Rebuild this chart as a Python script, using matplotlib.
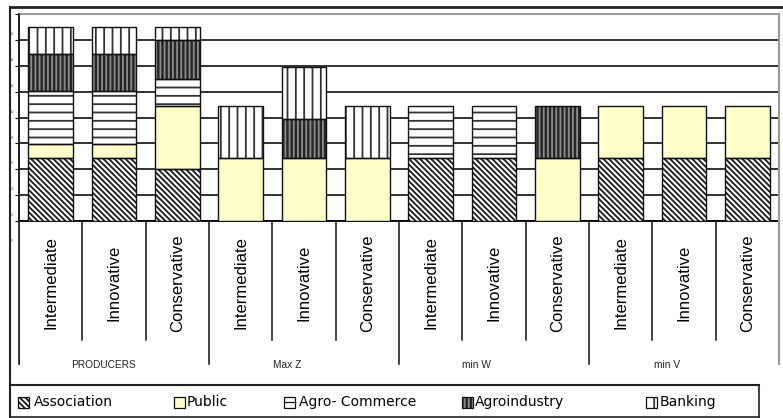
import numpy as np
import matplotlib
matplotlib.use("Agg")
import matplotlib.pyplot as plt
from matplotlib.lines import Line2D
from matplotlib.patches import Rectangle

W, H = 783, 418

categories = ['Intermediate', 'Innovative', 'Conservative'] * 4
groups = ['PRODUCERS', 'Max Z', 'min W', 'min V']

# stacked segments, bottom to top
association   = [4.9, 4.9, 4.0, 0, 0, 0, 4.9, 4.9, 0, 4.9, 4.9, 4.9]
public        = [1.05, 1.05, 4.9, 4.9, 4.9, 4.9, 0, 0, 4.9, 4.0, 4.0, 4.0]
agro_commerce = [4.1, 4.1, 2.05, 0, 0, 0, 4.0, 4.0, 0, 0, 0, 0]
agroindustry  = [2.85, 2.85, 3.05, 0, 3.0, 0, 0, 0, 4.0, 0, 0, 0]
banking       = [2.1, 2.1, 1.0, 4.0, 4.0, 4.0, 0, 0, 0, 0, 0, 0]

tick_labels = [0, 2, 4, 6, 8, 10, 12, 14, 16]

series = [
    ('Association', association, dict(fc='white', hatch='\\' * 6, hc='#1a1a1a')),
    ('Public', public, dict(fc='#ffffcc', hatch=None, hc='black')),
    ('Agro- Commerce', agro_commerce, dict(fc='white', hatch='--', hc='#333333')),
    ('Agroindustry', agroindustry, dict(fc='#262626', hatch='||||', hc='#8c8c8c')),
    ('Banking', banking, dict(fc='white', hatch='||', hc='#333333')),
]

plt.rcParams['hatch.linewidth'] = 1.3
plt.rcParams['font.family'] = ['Liberation Sans', 'DejaVu Sans']

fig = plt.figure(figsize=(W / 100, H / 100), dpi=100)

def fx(x):
    return x / W

def fy(y):
    return 1 - y / H

def fline(x0, y0, x1, y1, color='#222222', lw=1.0):
    fig.add_artist(Line2D([fx(x0), fx(x1)], [fy(y0), fy(y1)],
                          transform=fig.transFigure, color=color, lw=lw))

# main plot
ax = fig.add_axes([fx(19), fy(221), 760 / W, 207 / H])
x = np.arange(len(categories))
bottom = np.zeros(len(categories))
width = 0.71
for name, vals, st in series:
    vals = np.array(vals, dtype=float)
    m = vals > 0
    ax.bar(x[m], vals[m], width, bottom=bottom[m], color=st['fc'],
           hatch=st['hatch'], edgecolor=st['hc'], linewidth=0, zorder=3)
    ax.bar(x[m], vals[m], width, bottom=bottom[m], facecolor='none',
           edgecolor='#111111', linewidth=1.0, zorder=4)
    bottom += vals

ax.set_xlim(-0.5, 11.5)
ax.set_ylim(0, 16)
ax.set_yticks(np.arange(0, 17, 2))
ax.yaxis.grid(True, color='#222222', lw=1.3)
ax.set_axisbelow(True)
ax.tick_params(axis='y', length=3, width=0.8, labelleft=False)
ax.set_xticks([])
ax.spines['top'].set_color('#999999')
ax.spines['top'].set_linewidth(1.5)
ax.spines['right'].set_visible(False)
ax.spines['left'].set_linewidth(1.2)
ax.spines['bottom'].set_linewidth(1.3)
for t in tick_labels:
    ax.text(-0.009, t - 1.55, str(t), transform=ax.get_yaxis_transform(),
            ha='center', va='center', fontsize=3, color='#666666', clip_on=False)

# category table under the bars
tab = fig.add_axes([fx(19), fy(365), 760 / W, 144 / H])
tab.set_xlim(-0.5, 11.5)
tab.set_ylim(365, 221)
tab.axis('off')
for k in range(11):
    yend = 364 if k in (2, 5, 8) else 340
    tab.plot([k + 0.5, k + 0.5], [221, yend], color='#111111', lw=1.1)
tab.plot([-0.5, -0.5], [221, 364], color='#111111', lw=1.2)
for i, c in enumerate(categories):
    tab.text(i, 283, c, rotation=90, ha='center', va='center', fontsize=12)
for g, name in enumerate(groups):
    off = 0.17 if g == 0 else 0.27
    tab.text(3 * g + 1 - off, 365, name, ha='center', va='center', fontsize=7.3,
             color='#222222')

# frames
fline(10, 7, 783, 7, lw=2.0)
fline(10, 7, 10, 418, lw=1.5)
fline(19, 14, 19, 364, lw=1.2)
fline(779, 14, 779, 364, color='#999999', lw=1.5)
fline(10, 385, 759, 385, lw=1.5)
fline(759, 385, 759, 417, lw=1.2)
fline(10, 417, 759, 417, lw=1.2)

# legend row
leg = fig.add_axes([fx(10), fy(417), 749 / W, 32 / H])
leg.set_xlim(10, 759)
leg.set_ylim(417, 385)
leg.axis('off')
leg_pos = [(18, 34), (174, 187), (284, 299), (462, 475), (646, 660)]
for (name, vals, st), (px, tx) in zip(series, leg_pos):
    h = st['hatch']
    if name == 'Agro- Commerce':
        h = None
        leg.plot([px, px + 11], [402, 402], color='#111111', lw=0.9)
    leg.add_patch(Rectangle((px, 396.5), 11, 11, facecolor=st['fc'], hatch=h,
                            edgecolor=st['hc'], lw=0))
    leg.add_patch(Rectangle((px, 396.5), 11, 11, facecolor='none',
                            edgecolor='#111111', lw=0.9))
    leg.text(tx, 402, name, ha='left', va='center', fontsize=10,
             family=['DejaVu Sans'])

fig.savefig('out.png', dpi=100)
